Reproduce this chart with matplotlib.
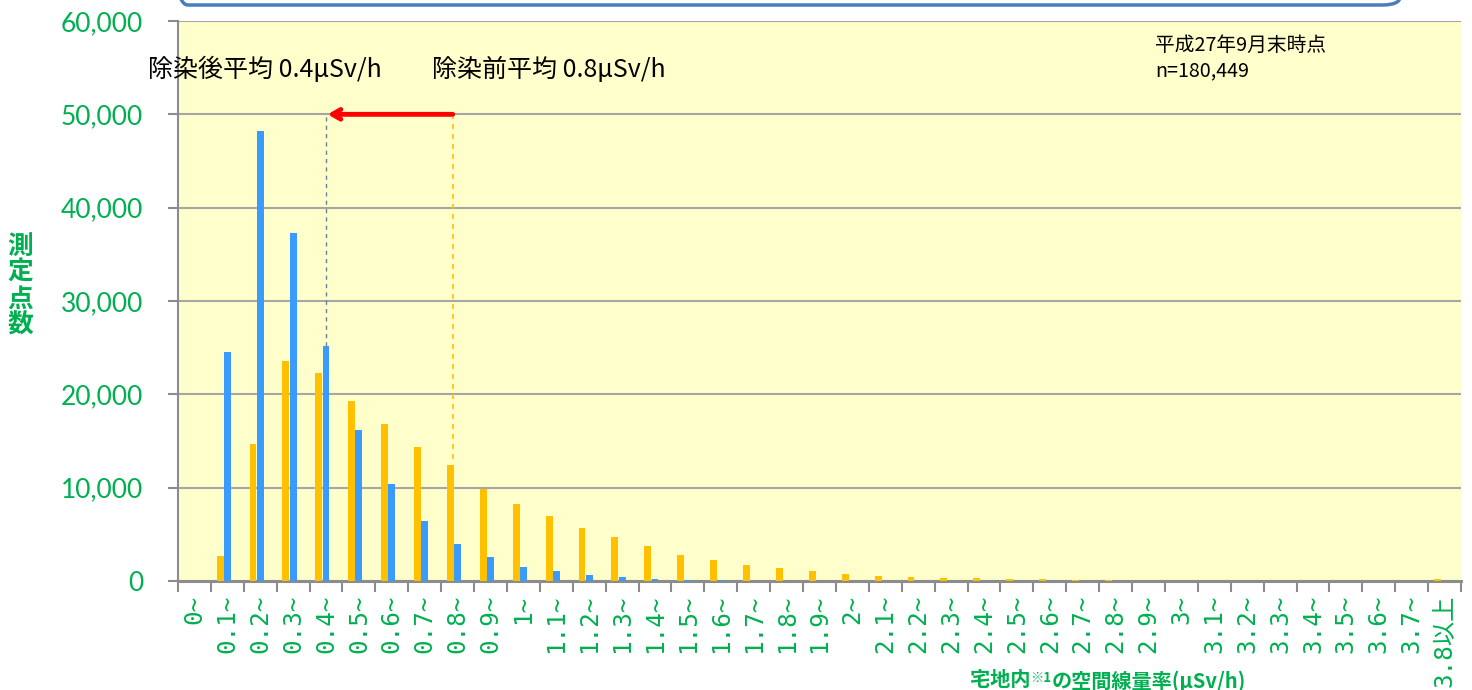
import matplotlib
matplotlib.use("Agg")
import matplotlib.pyplot as plt
from matplotlib.patches import FancyBboxPatch
from matplotlib.ticker import FuncFormatter
import numpy as np

# Dose-rate classes (μSv/h) for residential land
categories = ["0~", "0.1~", "0.2~", "0.3~", "0.4~", "0.5~", "0.6~", "0.7~", "0.8~", "0.9~",
              "1~", "1.1~", "1.2~", "1.3~", "1.4~", "1.5~", "1.6~", "1.7~", "1.8~", "1.9~",
              "2~", "2.1~", "2.2~", "2.3~", "2.4~", "2.5~", "2.6~", "2.7~", "2.8~", "2.9~",
              "3~", "3.1~", "3.2~", "3.3~", "3.4~", "3.5~", "3.6~", "3.7~", "3.8以上"]

# Number of measurement points before decontamination
before = [0, 2700, 14700, 23600, 22300, 19300, 16800, 14400, 12400, 9860,
          8250, 7000, 5680, 4700, 3750, 2800, 2250, 1700, 1430, 1070,
          800, 580, 430, 360, 320, 210, 180, 150, 100, 30,
          50, 20, 20, 10, 10, 10, 10, 10, 200]

# Number of measurement points after decontamination
after = [0, 24500, 48200, 37300, 25200, 16200, 10400, 6460, 3960, 2600,
         1500, 1040, 640, 400, 210, 100, 80, 40, 30, 20,
         10, 10, 0, 0, 0, 0, 0, 0, 0, 0,
         0, 0, 0, 0, 0, 0, 0, 0, 0]

yticks = [0, 10000, 20000, 30000, 40000, 50000, 60000]

mean_after_pos = 4.0    # class 0.4~
mean_before_pos = 7.85  # class 0.8~
arrow_level = 50000

GREEN = "#00B050"
ORANGE = "#FFC000"
BLUE = "#3A9BFF"
GRID = "#A6A6A6"
CJK = ["Noto Sans CJK JP", "DejaVu Sans"]

W, H = 1472, 690
fig = plt.figure(figsize=(W / 100, H / 100), dpi=100)
fig.patch.set_facecolor("white")

ax = fig.add_axes([178 / W, 1 - 581 / H, (1461 - 178) / W, (581 - 21) / H])
ax.set_facecolor("#FFFFCC")

x = np.arange(len(categories))
bw = 0.21
ax.bar(x - 0.22, before, width=bw, color=ORANGE, zorder=3)
ax.bar(x, after, width=bw, color=BLUE, zorder=3)

ax.set_xlim(-0.5, len(categories) - 0.5)
ax.set_ylim(0, 60000)
ax.set_yticks(yticks)
ax.yaxis.set_major_formatter(FuncFormatter(lambda v, p: f"{int(v):,}"))
ax.grid(axis="y", color=GRID, linewidth=1.5, zorder=1)
ax.set_axisbelow(True)

for lab in ax.get_yticklabels():
    lab.set_fontfamily("Lato")
    lab.set_fontsize(19)
    lab.set_color(GREEN)
ax.tick_params(axis="y", length=7, width=1.5, color="#8C8C8C", pad=18)

# Category labels between boundary ticks
ax.set_xticks(x)
ax.set_xticklabels(categories, rotation=90, va="top", ha="center",
                   fontsize=17.5, color=GREEN,
                   fontfamily=["DejaVu Sans Mono", "Noto Sans CJK JP"])
ax.tick_params(axis="x", length=0, pad=10)
ax.set_xticks(np.arange(-0.5, len(categories)), minor=True)
ax.tick_params(axis="x", which="minor", length=8, width=1.5, color="#8C8C8C")

for side in ["top", "right"]:
    ax.spines[side].set_visible(False)
ax.spines["left"].set_color("#8C8C8C")
ax.spines["left"].set_linewidth(1.5)
ax.spines["bottom"].set_color("#8C8C8C")
ax.spines["bottom"].set_linewidth(2.2)

# Mean markers and shift arrow
ax.plot([mean_after_pos, mean_after_pos], [after[4], arrow_level],
        color="#6A7F9A", linestyle=(0, (3, 3)), linewidth=1, zorder=4)
ax.plot([mean_before_pos, mean_before_pos], [before[8] + 700, arrow_level],
        color=ORANGE, linestyle=(0, (3, 3)), linewidth=1.2, zorder=4)
ax.annotate("", xy=(mean_after_pos + 0.05, arrow_level),
            xytext=(mean_before_pos, arrow_level),
            arrowprops=dict(arrowstyle="->,head_length=0.6,head_width=0.35",
                            color="#FF0000", linewidth=3.5,
                            capstyle="round", joinstyle="round",
                            shrinkA=0, shrinkB=0),
            zorder=5)

fig.text(148 / W, 1 - 70 / H, "除染後平均 0.4μSv/h", fontsize=18,
         family=CJK, va="center", ha="left", color="black")
fig.text(432 / W, 1 - 70 / H, "除染前平均 0.8μSv/h", fontsize=18,
         family=CJK, va="center", ha="left", color="black")

fig.text(1155 / W, 1 - 45 / H, "平成27年9月末時点", fontsize=14.2,
         family=CJK, va="center", ha="left", color="black")
fig.text(1155 / W, 1 - 71 / H, "n=180,449", fontsize=14.2,
         family=CJK, va="center", ha="left", color="black")

# Vertical axis title, one character per row
for i, ch in enumerate("測定点数"):
    fig.text(20 / W, 1 - (246 + 26.5 * i) / H, ch, fontsize=18.5,
             fontweight="bold", family=CJK, color=GREEN,
             ha="center", va="center")

# Horizontal axis title with raised footnote mark
t1 = fig.text(970 / W, 1 - 680 / H, "宅地内", fontsize=14.5, fontweight="bold",
              family=CJK, color=GREEN, ha="left", va="center")
a2 = ax.annotate("※1", xy=(1.0, 1.0), xycoords=t1, xytext=(0, -1),
                 textcoords="offset points", fontsize=9.5, fontweight="bold",
                 family=CJK, color=GREEN, ha="left", va="top",
                 annotation_clip=False)
ax.annotate("の空間線量率(μSv/h)", xy=(1.0, 0.0), xycoords=a2,
            xytext=(0, -5), textcoords="offset points",
            fontsize=14.5, fontweight="bold", family=CJK, color=GREEN,
            ha="left", va="bottom", annotation_clip=False)

# Rounded frame of the heading panel above the chart
frame = FancyBboxPatch((170 / W, 1 - 5 / H), (1400 - 170) / W, 0.2,
                       boxstyle="round,pad=0,rounding_size=0.012",
                       transform=fig.transFigure, facecolor="none",
                       edgecolor="#4A7EBB", linewidth=2.5, clip_on=False)
fig.patches.append(frame)

fig.savefig("out.png", dpi=100)
